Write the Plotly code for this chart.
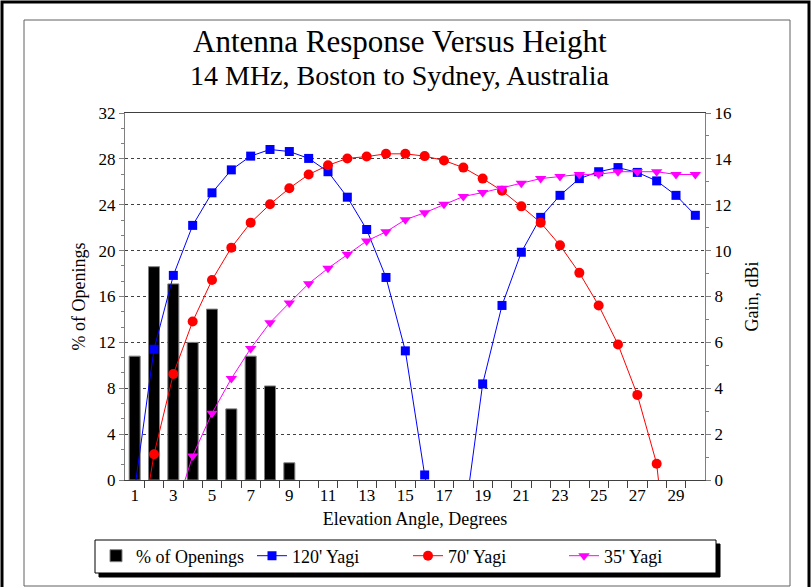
import plotly.graph_objects as go

# ---------------- data ----------------
angles = list(range(1, 31))
openings_pct = [10.8, 18.6, 17.1, 12.0, 14.9, 6.2, 10.8, 8.2, 1.5] + [None] * 21

gain_120 = [-0.4, 5.7, 8.92, 11.1, 12.52, 13.52, 14.12, 14.41, 14.32, 14.02,
            13.44, 12.33, 10.92, 8.83, 5.63, 0.22, -4.0, -2.06, 4.19, 7.61,
            9.93, 11.45, 12.41, 13.14, 13.44, 13.62, 13.41, 13.04, 12.41, 11.54]
gain_70 = [-4.0, 1.12, 4.62, 6.91, 8.72, 10.13, 11.22, 12.02, 12.72, 13.32,
           13.72, 14.02, 14.1, 14.22, 14.22, 14.12, 13.93, 13.62, 13.14, 12.61,
           11.93, 11.22, 10.23, 9.03, 7.61, 5.91, 3.71, 0.71, -7.0, None]
gain_35 = [None, None, -1.6, 1.05, 2.91, 4.42, 5.73, 6.86, 7.72, 8.56,
           9.23, 9.84, 10.42, 10.82, 11.35, 11.65, 12.02, 12.36, 12.53, 12.72,
           12.94, 13.14, 13.23, 13.32, 13.33, 13.44, 13.44, 13.44, 13.32, 13.32]

x_tick_vals = list(range(1, 30, 2))
x_tick_text = [str(v) for v in x_tick_vals]
x_minor_vals = [v + 0.5 for v in range(1, 30)]
left_ticks = list(range(0, 33, 4))
left_minor = [i * 4 / 3 for i in range(0, 25)]
right_ticks = list(range(0, 17, 2))
right_minor = list(range(0, 17))

title_text = "Antenna Response Versus Height"
subtitle_text = "14 MHz, Boston to Sydney, Australia"

# ---------------- geometry ----------------
W, H = 811, 587
ML, MR, MT, MB = 125, 106, 113, 107
PW, PH = W - ML - MR, H - MT - MB


def X(px):
    return (px - ML) / PW


def Y(py):
    return (H - MB - py) / PH


FONT = "Liberation Serif, Times New Roman, serif"
AXC = "#7f7f7f"

fig = go.Figure()
fig.add_trace(go.Bar(
    x=angles, y=openings_pct, name="% of Openings", yaxis="y",
    marker=dict(color="black", line=dict(color="#808080", width=1)),
    width=0.57))
fig.add_trace(go.Scatter(
    x=angles, y=gain_120, name="120' Yagi", yaxis="y2", mode="lines+markers",
    line=dict(color="#0000ff", width=1),
    marker=dict(symbol="square", size=9, color="#0000ff")))
fig.add_trace(go.Scatter(
    x=angles, y=gain_70, name="70' Yagi", yaxis="y2", mode="lines+markers",
    line=dict(color="#ff0000", width=1),
    marker=dict(symbol="circle", size=10, color="#ff0000")))
fig.add_trace(go.Scatter(
    x=angles, y=gain_35, name="35' Yagi", yaxis="y2", mode="lines+markers",
    line=dict(color="#ff00ff", width=1),
    marker=dict(symbol="triangle-down", size=10, color="#ff00ff")))

tickfont = dict(family=FONT, size=17, color="black")
titlefont = dict(family=FONT, size=18, color="black")

fig.update_layout(
    width=W, height=H,
    margin=dict(l=ML, r=MR, t=MT, b=MB, pad=0),
    paper_bgcolor="white", plot_bgcolor="white",
    font=dict(family=FONT, color="black"),
    showlegend=True,
    bargap=0.43,
    xaxis=dict(
        range=[0.5, 30.5], tickmode="array", tickvals=x_tick_vals, ticktext=x_tick_text,
        ticks="", tickfont=tickfont, showgrid=False, zeroline=False,
        showline=True, linecolor="#404040", linewidth=1, mirror=True,
        minor=dict(tickmode="array", tickvals=x_minor_vals, ticks="outside",
                   ticklen=7, tickcolor="#404040", tickwidth=1, showgrid=False),
        title=dict(text="Elevation Angle, Degrees", font=titlefont, standoff=7),
    ),
    yaxis=dict(
        range=[0, 32], tickmode="array", tickvals=left_ticks, ticks="outside",
        ticklen=5, tickcolor=AXC, tickfont=tickfont,
        showgrid=True, gridcolor="#404040", griddash="3px,3px", gridwidth=1,
        zeroline=False, showline=True, linecolor=AXC, linewidth=1,
        minor=dict(tickmode="array", tickvals=left_minor, ticks="outside",
                   ticklen=3, tickcolor=AXC, showgrid=False),
        title=dict(text="% of Openings", font=titlefont, standoff=8),
    ),
    yaxis2=dict(
        range=[0, 16], overlaying="y", side="right", anchor="x",
        tickmode="array", tickvals=right_ticks, ticks="outside", ticklen=5,
        tickcolor=AXC, tickfont=tickfont, showgrid=False, zeroline=False,
        showline=True, linecolor=AXC, linewidth=1,
        minor=dict(tickmode="array", tickvals=right_minor, ticks="outside",
                   ticklen=3, tickcolor=AXC, showgrid=False),
        title=dict(text="Gain, dBi", font=titlefont, standoff=14),
    ),
    legend=dict(
        orientation="h", x=X(96), xanchor="left", y=Y(556), yanchor="middle",
        bgcolor="rgba(0,0,0,0)", borderwidth=0,
        font=dict(family=FONT, size=18, color="black"),
        entrywidth=111, entrywidthmode="pixels", itemclick=False,
    ),
)

shapes = [
    # outer frame
    dict(type="rect", xref="paper", yref="paper", x0=X(2), x1=X(809), y0=Y(2), y1=Y(600),
         line=dict(color="black", width=3), fillcolor="rgba(0,0,0,0)", layer="below"),
    # inner frame
    dict(type="rect", xref="paper", yref="paper", x0=X(24), x1=X(790), y0=Y(20), y1=Y(586),
         line=dict(color="#606060", width=1), fillcolor="rgba(0,0,0,0)", layer="below"),
    # legend shadow and box
    dict(type="rect", xref="paper", yref="paper", x0=X(99), x1=X(720), y0=Y(544), y1=Y(577),
         line=dict(color="black", width=1), fillcolor="black", layer="above"),
    dict(type="rect", xref="paper", yref="paper", x0=X(95), x1=X(716), y0=Y(540), y1=Y(573),
         line=dict(color="black", width=1), fillcolor="white", layer="above"),
]
fig.update_layout(shapes=shapes)

fig.add_annotation(text=title_text, xref="paper", yref="paper", x=X(400), y=Y(41),
                   xanchor="center", yanchor="middle", showarrow=False,
                   font=dict(family=FONT, size=31, color="black"))
fig.add_annotation(text=subtitle_text, xref="paper", yref="paper", x=X(400), y=Y(75),
                   xanchor="center", yanchor="middle", showarrow=False,
                   font=dict(family=FONT, size=28, color="black"))

fig.write_html("out.html", config={"displayModeBar": False},
               post_script="document.body.style.margin='0px';document.body.style.overflow='hidden';")
